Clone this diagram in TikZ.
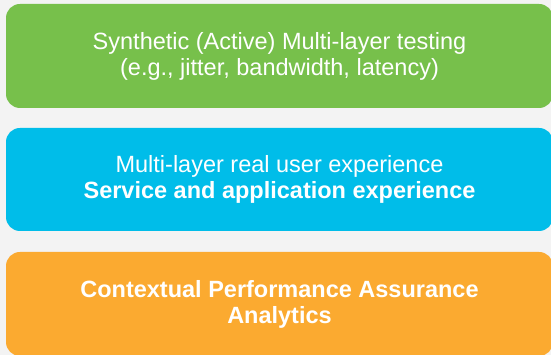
\documentclass[tikz,border=0pt]{standalone}
\usepackage{fontspec}
\setmainfont{Liberation Sans}
\definecolor{bggray}{RGB}{243,243,243}
\definecolor{layergreen}{RGB}{119,192,75}
\definecolor{layerblue}{RGB}{0,189,233}
\definecolor{layerorange}{RGB}{251,170,48}
\tikzset{layer/.style={rounded corners=14pt, minimum width=547pt, inner sep=0pt,
                       text=white, align=center,
                       font=\fontsize{23.5}{26}\selectfont}}

\begin{document}
\begin{tikzpicture}[x=1pt, y=1pt]
        \useasboundingbox[fill=bggray] (0,0) rectangle (551,355);
        % three stacked layers
        \node[layer, fill=layergreen, minimum height=104pt] (synthetic) at (279.5,299)
            {Synthetic (Active) Multi-layer testing\\(e.g., jitter, bandwidth, latency)};
        \node[layer, fill=layerblue, minimum height=103pt] (realuser) at (279.5,175.5)
            {Multi-layer real user experience\\\textbf{Service and application experience}};
        \node[layer, fill=layerorange, minimum height=104pt] (analytics) at (279.5,51)
            {\textbf{Contextual Performance Assurance}\\\textbf{Analytics}};
    \end{tikzpicture}
\end{document}
